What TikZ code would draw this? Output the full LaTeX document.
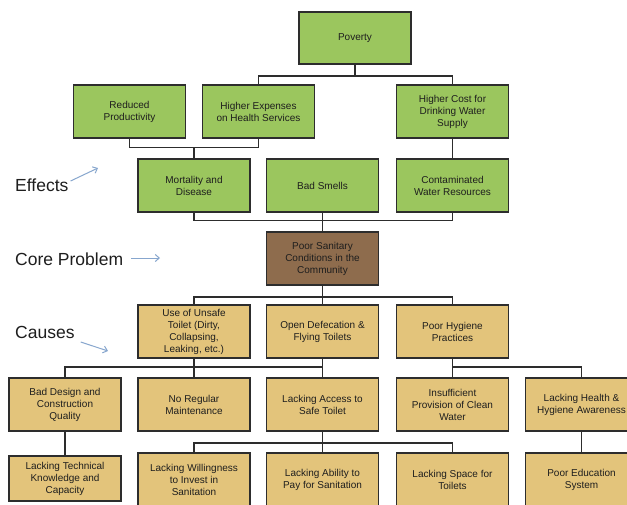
\documentclass[tikz,border=0pt]{standalone}
\usepackage{fontspec}
\setmainfont{Liberation Sans}
\usetikzlibrary{arrows.meta}
\definecolor{gfill}{RGB}{155,198,94}
\definecolor{bfill}{RGB}{142,108,77}
\definecolor{tfill}{RGB}{227,196,123}
\definecolor{edge}{RGB}{45,45,45}
\definecolor{txt}{RGB}{30,30,30}
\definecolor{arr}{RGB}{135,166,206}
\begin{document}
\begin{tikzpicture}[x=1pt,y=-1pt,
  box/.style={draw=edge,line width=1.5pt,minimum width=112pt,minimum height=53pt,inner sep=0pt,align=center,font=\fontsize{10}{12}\selectfont,text=txt},
  gbox/.style={box,fill=gfill},
  bbox/.style={box,fill=bfill},
  tbox/.style={box,fill=tfill},
  link/.style={draw=edge,line width=1.5pt},
  lab/.style={font=\fontsize{17.5}{20}\selectfont,text=txt,anchor=west,inner sep=0pt},
  pointer/.style={draw=arr,line width=1pt,-{Straight Barb[length=4pt,width=7pt]}}]
\path[use as bounding box] (0,0) rectangle (627,504);
\clip (0,0) rectangle (627,504);
\fill[white] (0,0) rectangle (627,504);

% effects
\node[gbox,minimum height=52pt] (pov) at (355,38) {Poverty};
\node[gbox] (red) at (129.5,111.5) {Reduced\\Productivity};
\node[gbox] (hexp) at (258.5,111.5) {Higher Expenses\\on Health Services};
\node[gbox] (hcost) at (452.5,111.5) {Higher Cost for\\Drinking Water\\Supply};
\node[gbox] (mort) at (194,185.5) {Mortality and\\Disease};
\node[gbox] (bsm) at (322.5,185.5) {Bad Smells};
\node[gbox] (cont) at (452.5,185.5) {Contaminated\\Water Resources};
% core
\node[bbox] (core) at (322.5,258.5) {Poor Sanitary\\Conditions in the\\Community};
% causes
\node[tbox] (unsafe) at (194,331.5) {Use of Unsafe\\Toilet (Dirty,\\Collapsing,\\Leaking, etc.)};
\node[tbox] (opendef) at (322.5,331.5) {Open Defecation \&\\Flying Toilets};
\node[tbox] (poorhyg) at (452.5,331.5) {Poor Hygiene\\Practices};
\node[tbox] (baddes) at (65,404.5) {Bad Design and\\Construction\\Quality};
\node[tbox] (noreg) at (194,404.5) {No Regular\\Maintenance};
\node[tbox] (lackacc) at (322.5,404.5) {Lacking Access to\\Safe Toilet};
\node[tbox] (insuff) at (452.5,404.5) {Insufficient\\Provision of Clean\\Water};
\node[tbox] (lackhealth) at (581.5,404.5) {Lacking Health \&\\Hygiene Awareness};
\node[tbox,minimum height=45pt] (lacktech) at (65,478.5) {Lacking Technical\\Knowledge and\\Capacity};
\node[tbox] (willing) at (194,479.5) {Lacking Willingness\\to Invest in\\Sanitation};
\node[tbox] (ability) at (322.5,479.5) {Lacking Ability to\\Pay for Sanitation};
\node[tbox] (space) at (452.5,479.5) {Lacking Space for\\Toilets};
\node[tbox] (poored) at (581.5,479.5) {Poor Education\\System};

% connectors
\draw[link] (pov.south) -- ++(0,11) -| (hexp.north);
\draw[link] (pov.south) -- ++(0,11) -| (hcost.north);
\draw[link] (mort.north) -- ++(0,-11) -| (red.south);
\draw[link] (mort.north) -- ++(0,-11) -| (hexp.south);
\draw[link] (hcost.south) -- (cont.north);
\draw[link] (core.north) -- ++(0,-11) -| (mort.south);
\draw[link] (core.north) -- ++(0,-11) -| (cont.south);
\draw[link] (core.north) -- (bsm.south);
\draw[link] (core.south) -- ++(0,11) -| (unsafe.north);
\draw[link] (core.south) -- ++(0,11) -| (poorhyg.north);
\draw[link] (core.south) -- (opendef.north);
\draw[link] (unsafe.south) -- ++(0,8) -| (baddes.north);
\draw[link] (unsafe.south) -- ++(0,8) -| (lackacc.north);
\draw[link] (unsafe.south) -- (noreg.north);
\draw[link] (opendef.south) -- (lackacc.north);
\draw[link] (poorhyg.south) -- ++(0,8) -| (lackhealth.north);
\draw[link] (poorhyg.south) -- (insuff.north);
\draw[link] (baddes.south) -- (lacktech.north);
\draw[link] (lackacc.south) -- ++(0,11) -| (willing.north);
\draw[link] (lackacc.south) -- ++(0,11) -| (space.north);
\draw[link] (lackacc.south) -- (ability.north);
\draw[link] (lackhealth.south) -- (poored.north);

% side labels
\node[lab] (leff) at (15,185) {Effects};
\node[lab] (lcore) at (15,259) {Core Problem};
\node[lab] (lcause) at (15,332) {Causes};
\coordinate (peff) at (98,168);
\coordinate (pcore) at (160,258);
\coordinate (pcause) at (108,351);
\draw[pointer] ([shift={(2,-4)}]leff.east) -- (peff);
\draw[pointer] ([xshift=8pt,yshift=1pt]lcore.east) -- (pcore);
\draw[pointer] ([shift={(6,10)}]lcause.east) -- (pcause);
\end{tikzpicture}
\end{document}
